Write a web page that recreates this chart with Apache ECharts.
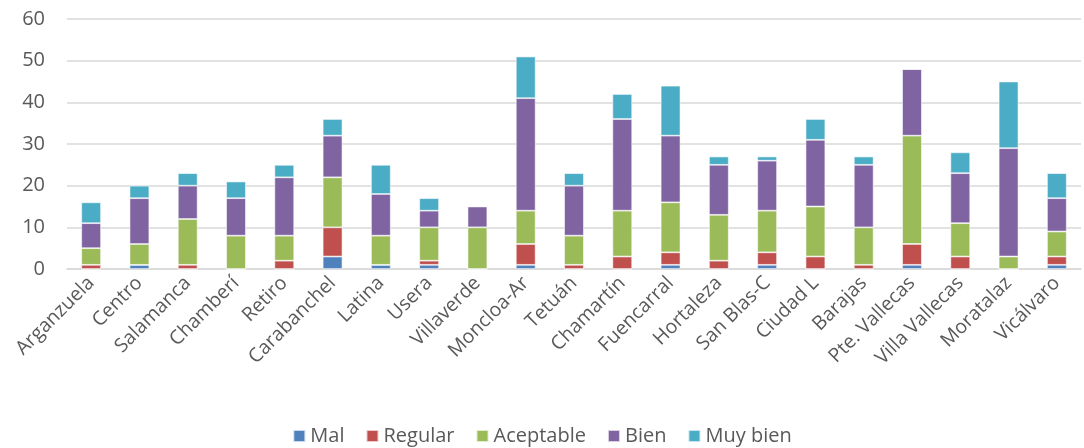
<!DOCTYPE html>
<html>
<head>
<meta charset="utf-8">
<script src="https://cdn.jsdelivr.net/npm/echarts@6/dist/echarts.min.js"></script>
<style>
  html, body { margin: 0; padding: 0; background: #fff; }
  #chart { width: 1084px; height: 448px; }
</style>
</head>
<body>
<div id="chart"></div>
<script>
// distritos
const districts = ['Arganzuela', 'Centro', 'Salamanca', 'Chamberí', 'Retiro', 'Carabanchel', 'Latina', 'Usera',
  'Villaverde', 'Moncloa-Ar', 'Tetuán', 'Chamartín', 'Fuencarral', 'Hortaleza', 'San Blas-C', 'Ciudad L',
  'Barajas', 'Pte. Vallecas', 'Villa Vallecas', 'Moratalaz', 'Vicálvaro'];

const mal       = [0, 1, 0, 0, 0, 3, 1, 1, 0, 1, 0, 0, 1, 0, 1, 0, 0, 1, 0, 0, 1];
const regular   = [1, 0, 1, 0, 2, 7, 0, 1, 0, 5, 1, 3, 3, 2, 3, 3, 1, 5, 3, 0, 2];
const aceptable = [4, 5, 11, 8, 6, 12, 7, 8, 10, 8, 7, 11, 12, 11, 10, 12, 9, 26, 8, 3, 6];
const bien      = [6, 11, 8, 9, 14, 10, 10, 4, 5, 27, 12, 22, 16, 12, 12, 16, 15, 16, 12, 26, 8];
const muyBien   = [5, 3, 3, 4, 3, 4, 7, 3, 0, 10, 3, 6, 12, 2, 1, 5, 2, 0, 5, 16, 6];

const seriesNames = ['Mal', 'Regular', 'Aceptable', 'Bien', 'Muy bien'];
const colors = ['#4F81BD', '#C0504D', '#9BBB59', '#8064A2', '#4BACC6'];

const chart = echarts.init(document.getElementById('chart'));
const font = '"Open Sans", sans-serif';

function bar(name, data, i) {
  return {
    name: name,
    type: 'bar',
    stack: 'total',
    barWidth: '41%',
    data: data,
    itemStyle: { color: colors[i], borderColor: 'rgba(255,255,255,0.7)', borderWidth: 0.8 },
    animation: false
  };
}

chart.setOption({
  textStyle: { fontFamily: font },
  grid: { left: 67, right: 3, top: 19, bottom: 179 },
  legend: {
    top: 421,
    left: 'center',
    itemWidth: 12,
    itemHeight: 12,
    itemGap: 21,
    icon: 'rect',
    textStyle: { fontSize: 20, color: '#595959', fontFamily: font },
    data: seriesNames
  },
  xAxis: {
    type: 'category',
    data: districts,
    axisTick: { show: false },
    axisLine: { lineStyle: { color: '#d9d9d9', width: 1.5 } },
    axisLabel: { rotate: 45, fontSize: 19.5, color: '#595959', margin: 11, interval: 0 }
  },
  yAxis: {
    type: 'value',
    min: 0,
    max: 60,
    interval: 10,
    axisLine: { show: false },
    axisTick: { show: false },
    splitLine: { lineStyle: { color: '#d9d9d9', width: 1.5 } },
    axisLabel: { fontSize: 20, color: '#595959', margin: 22 }
  },
  series: [
    bar('Mal', mal, 0),
    bar('Regular', regular, 1),
    bar('Aceptable', aceptable, 2),
    bar('Bien', bien, 3),
    bar('Muy bien', muyBien, 4)
  ]
});
</script>
</body>
</html>
